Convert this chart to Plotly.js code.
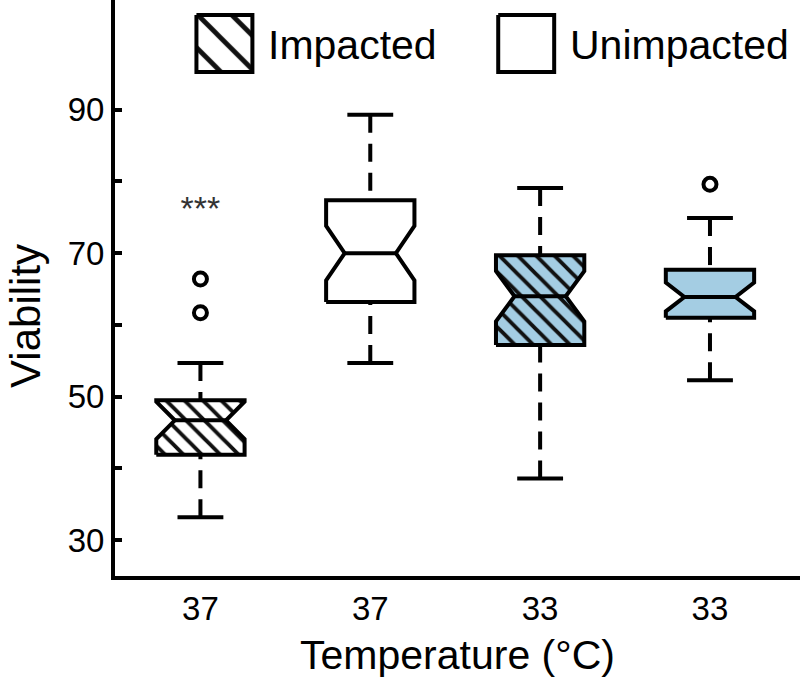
<!DOCTYPE html>
<html>
<head>
<meta charset="utf-8">
<script src="https://cdn.plot.ly/plotly-3.0.1.min.js"></script>
<style>html,body{margin:0;padding:0;background:#fff;}#chart{width:800px;height:686px;}</style>
</head>
<body>
<div id="chart"></div>
<script>
// ---- data ----
const positions = [0, 1, 2, 3];
const tickLabels = ['37', '37', '33', '33'];
const groups = ['Impacted', 'Unimpacted', 'Impacted', 'Unimpacted'];
const q1 = [41.9, 63.2, 57.2, 61.0];
const median = [46.7, 70.0, 64.0, 63.9];
const q3 = [49.5, 77.4, 69.7, 67.7];
const lowerWhisker = [33.2, 54.7, 38.6, 52.3];
const upperWhisker = [54.7, 89.3, 79.1, 74.9];
const notchSpan = [2.6, 3.8, 3.5, 2.0];
const outlierBox = [0, 0, 3];
const outlierValue = [66.4, 61.7, 79.6];
const significance = ['***', '', '', ''];
const significanceY = [75.8, null, null, null];
const yTickVals = [30, 40, 50, 60, 70, 80, 90];
const yTickText = ['30', '', '50', '', '70', '', '90'];

// ---- styles ----
const FONT = '"Liberation Sans", Arial, Helvetica, sans-serif';
const BLUE = '#a4cde3';
const fillColors = ['#ffffff', '#ffffff', BLUE, BLUE];
const BOXW = 0.52, HALF = BOXW / 2, NOTCHW = 0.42, CAPHALF = 0.135, LW = 4;

const traces = [];
// whiskers (dashed) and caps
positions.forEach((p, i) => {
  traces.push({
    type: 'scatter', mode: 'lines',
    x: [p, p, null, p, p], y: [upperWhisker[i], q3[i], null, lowerWhisker[i], q1[i]],
    line: {color: '#000', width: LW, dash: '18px,11px'}, hoverinfo: 'skip', showlegend: false
  });
  traces.push({
    type: 'scatter', mode: 'lines',
    x: [p - CAPHALF, p + CAPHALF, null, p - CAPHALF, p + CAPHALF],
    y: [upperWhisker[i], upperWhisker[i], null, lowerWhisker[i], lowerWhisker[i]],
    line: {color: '#000', width: LW}, hoverinfo: 'skip', showlegend: false
  });
});
// notched boxes: filled (and hatched) outline from q1, median, q3 and notch span
positions.forEach((p, i) => {
  const ni = HALF * (1 - NOTCHW);
  const lo = median[i] - notchSpan[i], hi = median[i] + notchSpan[i];
  const xs = [p - HALF, p - HALF, p - ni, p - HALF, p - HALF, p + HALF, p + HALF, p + ni, p + HALF, p + HALF, p - HALF];
  const ys = [q1[i], lo, median[i], hi, q3[i], q3[i], hi, median[i], lo, q1[i], q1[i]];
  const t = {
    type: 'scatter', mode: 'lines', x: xs, y: ys, fill: 'toself',
    fillcolor: fillColors[i], line: {width: LW, color: '#000'},
    hoverinfo: 'skip', showlegend: false, name: groups[i]
  };
  if (groups[i] === 'Impacted') {
    t.fillpattern = {shape: '\\', bgcolor: fillColors[i], fgcolor: '#111', size: 13, solidity: 0.3};
  }
  traces.push(t);
  traces.push({
    type: 'scatter', mode: 'lines', x: [p - ni, p + ni], y: [median[i], median[i]],
    line: {width: LW, color: '#000'}, hoverinfo: 'skip', showlegend: false
  });
});
// outliers
traces.push({
  type: 'scatter', mode: 'markers',
  x: outlierBox.map(b => positions[b]), y: outlierValue,
  marker: {symbol: 'circle-open', size: 13, color: '#000', line: {width: 4, color: '#000'}},
  hoverinfo: 'skip', showlegend: false, cliponaxis: false
});
// significance text
traces.push({
  type: 'scatter', mode: 'text',
  x: positions, y: significanceY,
  text: significance, textposition: 'middle center',
  textfont: {family: FONT, size: 34, color: '#333'},
  hoverinfo: 'skip', showlegend: false
});

// ---- custom legend on an overlay axis measured in figure pixels ----
const legendItems = [
  {label: 'Impacted', x0: 196, pattern: true},
  {label: 'Unimpacted', x0: 498, pattern: false}
];
const LEG_Y0 = 15, LEG_Y1 = 72, LEG_W = 56;
const annotations = [];
legendItems.forEach(it => {
  const t = {
    type: 'scatter', mode: 'lines', xaxis: 'x2', yaxis: 'y2',
    x: [it.x0, it.x0 + LEG_W, it.x0 + LEG_W, it.x0, it.x0],
    y: [LEG_Y0, LEG_Y0, LEG_Y1, LEG_Y1, LEG_Y0],
    fill: 'toself', fillcolor: '#fff', line: {color: '#000', width: LW},
    hoverinfo: 'skip', showlegend: false
  };
  if (it.pattern) t.fillpattern = {shape: '\\', bgcolor: '#fff', fgcolor: '#111', size: 24, solidity: 0.2};
  traces.push(t);
  annotations.push({
    xref: 'x2', yref: 'y2', x: it.x0 + LEG_W + 14, y: (LEG_Y0 + LEG_Y1) / 2 + 1,
    xanchor: 'left', yanchor: 'middle', showarrow: false, text: it.label,
    font: {family: FONT, size: 41, color: '#000'}
  });
});
// y-axis title placed like the reference
annotations.push({
  xref: 'paper', yref: 'paper', x: -0.131, y: 0.452, xanchor: 'center', yanchor: 'middle',
  textangle: -90, showarrow: false, text: 'Viability',
  font: {family: FONT, size: 42, color: '#000'}
});

const layout = {
  width: 800, height: 686,
  margin: {l: 114.5, r: 0, t: 0, b: 110},
  paper_bgcolor: '#fff', plot_bgcolor: '#fff',
  showlegend: false,
  font: {family: FONT, color: '#000'},
  xaxis: {
    range: [-0.503, 3.53], tickvals: positions, ticktext: tickLabels,
    showgrid: false, zeroline: false, showline: true, linecolor: '#000', linewidth: LW,
    ticks: '', tickfont: {family: FONT, size: 33, color: '#000'},
    title: {text: 'Temperature (°C)', font: {family: FONT, size: 41, color: '#000'}, standoff: 16}
  },
  yaxis: {
    range: [25, 105.3], tickvals: yTickVals, ticktext: yTickText,
    showgrid: false, zeroline: false, showline: true, linecolor: '#000', linewidth: LW,
    ticks: 'inside', ticklen: 7, tickwidth: LW, tickcolor: '#000',
    tickfont: {family: FONT, size: 33, color: '#000'}
  },
  xaxis2: {overlaying: 'x', range: [114.5, 800], visible: false, fixedrange: true},
  yaxis2: {overlaying: 'y', range: [576, 0], visible: false, fixedrange: true},
  annotations: annotations
};

Plotly.newPlot('chart', traces, layout, {staticPlot: true});
</script>
</body>
</html>
